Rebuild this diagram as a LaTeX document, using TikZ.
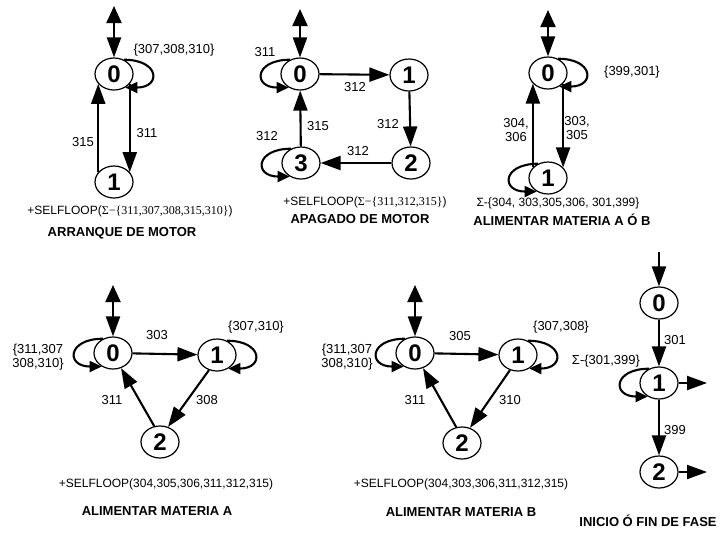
\documentclass[tikz,border=0pt]{standalone}
\usepackage{fontspec}
\setmainfont{Liberation Sans}
\newfontfamily\serifpart{Liberation Serif}
\usetikzlibrary{arrows.meta,shapes.geometric}
\begin{document}
\begin{tikzpicture}[x=1pt,y=-1pt,
  st/.style={draw, line width=1.2pt, ellipse, minimum width=38pt, minimum height=32pt, inner sep=0pt, font=\fontsize{24}{24}\selectfont\bfseries},
  arr/.style={line width=2.1pt, -{Triangle[length=20pt,width=14pt]}},
  dbl/.style={line width=2.1pt, {Triangle[length=17pt,width=15pt]}-{Triangle[length=20pt,width=14pt]}},
  lp/.style={line width=2.1pt, -{Triangle[length=12pt,width=11pt]}},
  lab/.style={font=\fontsize{13}{14.5}\selectfont, inner sep=1pt},
  note/.style={font=\fontsize{12}{13}\selectfont, inner sep=0pt},
  ttl/.style={font=\fontsize{13}{14}\selectfont\bfseries, inner sep=0pt}]
\fill[white] (0,0) rectangle (726,539);
\useasboundingbox (0,0) rectangle (726,539);

% ---------- ARRANQUE DE MOTOR ----------
\node[st] (a0) at (114,74) {0};
\node[st] (a1) at (114,182) {1};
\coordinate (a0in) at (114,6);
\draw[dbl] (a0in) -- (a0.north);
\draw[lp] (a0.55) .. controls +(36,0) and +(36,0) .. (a0.-50);
\draw[arr] (a0.-32) -- (a1.32);
\draw[arr] (a1.148) -- (a0.-148);
\node[lab] (la1) at (174,50) {\{307,308,310\}};
\node[lab] (la2) at (147,133) {311};
\node[lab] (la3) at (83,142) {315};
\node[note] (na) at (130,211) {+SELFLOOP({\serifpart Σ−\{311,307,308,315,310\}})};
\node[ttl] (ta) at (122,233) {ARRANQUE DE MOTOR};

% ---------- APAGADO DE MOTOR ----------
\node[st] (b0) at (300,74) {0};
\node[st] (b1) at (409,75) {1};
\node[st] (b2) at (411,163) {2};
\node[st] (b3) at (301,163) {3};
\coordinate (b0in) at (300,9);
\draw[dbl] (b0in) -- (b0.north);
\draw[lp] (b0.125) .. controls +(-36,0) and +(-36,0) .. (b0.-130);
\draw[arr] (b0) -- (b1);
\draw[arr] (b1) -- (b2);
\draw[arr] (b2) -- (b3);
\draw[arr] (b3) -- (b0);
\draw[lp] (b3.125) .. controls +(-36,0) and +(-36,0) .. (b3.-130);
\node[lab] (lb1) at (265,52) {311};
\node[lab] (lb2) at (355,87) {312};
\node[lab] (lb3) at (388,124) {312};
\node[lab] (lb4) at (358,151) {312};
\node[lab] (lb5) at (318,126) {315};
\node[lab] (lb6) at (267,136) {312};
\node[note] (nb) at (365,202) {+SELFLOOP({\serifpart Σ−\{311,312,315\}})};
\node[ttl] (tb) at (360,219) {APAGADO DE MOTOR};

% ---------- ALIMENTAR MATERIA A O B ----------
\node[st] (c0) at (548,73) {0};
\node[st] (c1) at (548,178) {1};
\coordinate (c0in) at (548,10);
\draw[dbl] (c0in) -- (c0.north);
\draw[lp] (c0.55) .. controls +(36,0) and +(36,0) .. (c0.-50);
\draw[arr] (c0.-35) -- (c1.35);
\draw[arr] (c1.145) -- (c0.-145);
\draw[lp] (c1.125) .. controls +(-36,0) and +(-36,0) .. (c1.-130);
\node[lab] (lc1) at (632,72) {\{399,301\}};
\node[lab, align=center] (lc2) at (516,130) {304,\\306};
\node[lab, align=center] (lc3) at (577,128) {303,\\305};
\node[note] (nc) at (558,203) {Σ-\{304, 303,305,306, 301,399\}};
\node[ttl] (tc) at (562,220) {ALIMENTAR MATERIA A Ó B};

% ---------- ALIMENTAR MATERIA A ----------
\node[st] (d0) at (113,353) {0};
\node[st] (d1) at (217,355) {1};
\node[st] (d2) at (160,442) {2};
\coordinate (d0in) at (113,285);
\draw[dbl] (d0in) -- (d0.north);
\draw[lp] (d0.125) .. controls +(-36,0) and +(-36,0) .. (d0.-130);
\draw[arr] (d0) -- (d1);
\draw[lp] (d1.55) .. controls +(36,0) and +(36,0) .. (d1.-50);
\draw[arr] (d1.-118) -- (d2.62);
\draw[arr] (d2.110) -- (d0.-62);
\node[lab] (ld1) at (157,335) {303};
\node[lab, align=center] (ld2) at (38,357) {\{311,307\\308,310\}};
\node[lab] (ld3) at (256,327) {\{307,310\}};
\node[lab] (ld4) at (207,400) {308};
\node[lab] (ld5) at (112,400) {311};
\node[note] (nd) at (166,484) {+SELFLOOP(304,305,306,311,312,315)};
\node[ttl] (td) at (157,511) {ALIMENTAR MATERIA A};

% ---------- ALIMENTAR MATERIA B ----------
\node[st] (e0) at (415,353) {0};
\node[st] (e1) at (518,355) {1};
\node[st] (e2) at (462,443) {2};
\coordinate (e0in) at (415,285);
\draw[dbl] (e0in) -- (e0.north);
\draw[lp] (e0.125) .. controls +(-36,0) and +(-36,0) .. (e0.-130);
\draw[arr] (e0) -- (e1);
\draw[lp] (e1.55) .. controls +(36,0) and +(36,0) .. (e1.-50);
\draw[arr] (e1.-118) -- (e2.62);
\draw[arr] (e2.110) -- (e0.-62);
\node[lab] (le1) at (460,336) {305};
\node[lab, align=center] (le2) at (347,357) {\{311,307\\308,310\}};
\node[lab] (le3) at (561,327) {\{307,308\}};
\node[lab] (le4) at (510,400) {310};
\node[lab] (le5) at (415,400) {311};
\node[note] (ne) at (461,484) {+SELFLOOP(304,303,306,311,312,315)};
\node[ttl] (te) at (461,512) {ALIMENTAR MATERIA B};

% ---------- INICIO O FIN DE FASE ----------
\node[st] (f0) at (659,303) {0};
\node[st] (f1) at (659,383) {1};
\node[st] (f2) at (659,472) {2};
\coordinate (f0in) at (659,252);
\coordinate (f1out) at (707,383);
\coordinate (f2out) at (707,472);
\draw[arr] (f0in) -- (f0.north);
\draw[arr] (f0) -- (f1);
\draw[arr] (f1) -- (f2);
\draw[lp] (f1.125) .. controls +(-36,0) and +(-36,0) .. (f1.-130);
\draw[arr] (f1.east) -- (f1out);
\draw[arr] (f2.east) -- (f2out);
\node[lab, anchor=west] (lf1) at (663,340) {301};
\node[lab, anchor=west] (lf2) at (663,430) {399};
\node[lab] (lf3) at (606,361) {Σ-\{301,399\}};
\node[ttl] (tf) at (648,521) {INICIO Ó FIN DE FASE};
\end{tikzpicture}
\end{document}
